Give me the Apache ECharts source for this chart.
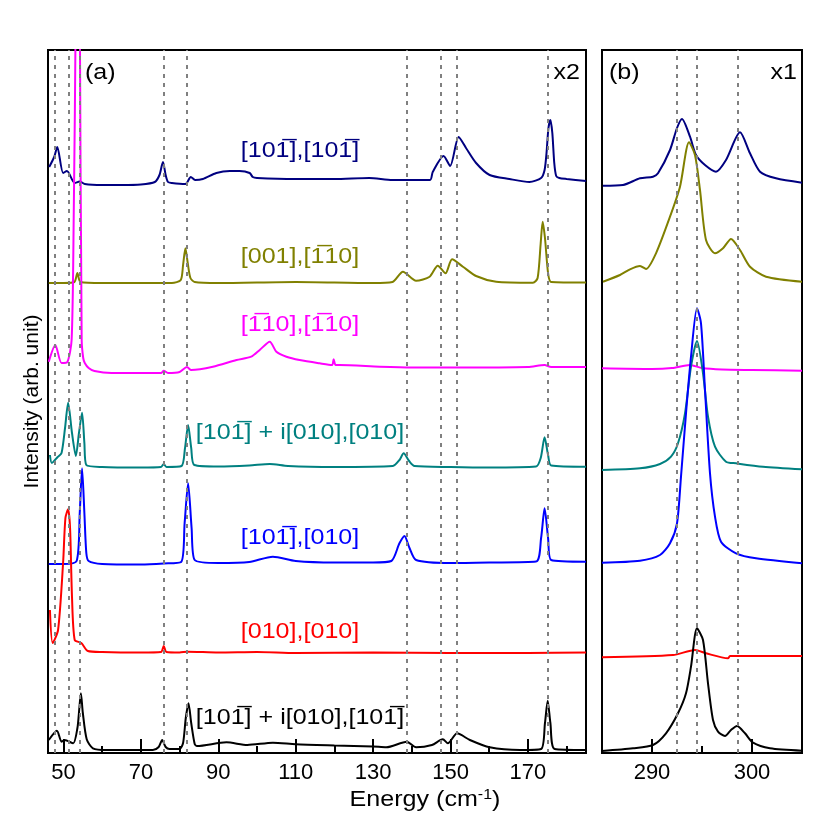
<!DOCTYPE html>
<html>
<head>
<meta charset="utf-8">
<script src="https://cdn.jsdelivr.net/npm/echarts@6/dist/echarts.min.js"></script>
<style>
  html, body { margin: 0; padding: 0; background: #fff; }
  #chart { width: 830px; height: 830px; }
</style>
</head>
<body>
<div id="chart"></div>
<script>
// panel (a): Raman shift (cm-1) vs intensity incl. vertical offset (arb. unit)
const navyA = [[46.3,586],[47.6,596],[48.4,606],[49.9,580],[50.9,582],[52.9,570],[54.2,571.5],[55.5,569],[60,568],[65,568],[70,568.5],[73.6,571],[74.8,578],[75.7,591],[76.4,578],[77,571],[78,570],[81.5,569],[82.9,576],[84,573],[86,574],[89.5,580],[93,582],[95.5,582],[98.1,580],[98.9,576],[100,575],[110,574],[120,574],[129,575],[135,573],[144.7,573],[145.4,581],[148.2,597],[149.9,587],[152.1,616],[154,605],[156.6,590],[160.1,578],[165.2,574],[170.4,571],[173.4,575],[174.3,583],[174.8,600],[175.3,625],[175.8,633],[176.3,620],[176.8,590],[177.3,577],[178.1,575],[180,574],[185,572]];
const oliveA = [[46.2,470],[50,470],[52.8,471],[53.6,480],[54.4,471],[60,470],[70,470],[78,470],[80.3,473],[80.9,488],[81.5,504.7],[82.1,490],[82.8,475],[83.9,471],[90,470],[110,471],[130,470],[135,471],[137.7,481.3],[141.1,472.3],[144.6,476.3],[146.7,487.3],[148.7,479.7],[150.4,493.7],[153.2,486.3],[156.6,477],[161.8,471.3],[171.3,470.3],[172.5,475],[173.3,510],[173.8,531.3],[174.4,515],[175.2,480],[176,471],[185,470.5]];
const magentaA = [[46.2,391.3],[47.9,408],[49.5,390],[51,391],[52.1,413],[52.6,520],[53.2,760],[53.7,1300],[54.2,760],[54.7,413],[55.1,395],[55.5,390],[56.5,385],[58,382],[62.4,380],[70,380],[75.2,380],[75.9,382.3],[77,380],[80,381],[81.9,386],[83,383],[88.6,386.3],[94.7,393],[98.5,396.3],[100.7,403],[103.3,411.3],[105,401.3],[107.6,396.3],[111,393],[116.2,389.7],[119.4,388],[119.8,393.7],[120.3,388],[121.3,388],[131.7,386.3],[140,385.5],[150,385.5],[170,386],[174.3,388],[176,386],[185,386]];
const tealA = [[46.5,298],[47,290],[48.5,296],[49.5,300],[50.4,325],[51.2,350.3],[52.2,320],[53.2,297],[54,320],[54.8,340.3],[55.4,310],[55.9,288],[60,286],[70,285.5],[75.2,286],[75.9,289],[76.6,286],[80.5,287],[81.4,305],[82.2,328],[83,305],[83.8,288],[90,286.5],[98,287.5],[103.3,289],[108,287],[120,286],[135.1,287],[136.8,293],[137.9,299.7],[139.3,292],[140.7,287],[150,286],[160,285.5],[172.1,286.5],[173.3,295],[174.3,315.7],[175.2,298],[176,287.5],[185,286.3]];
const blueA = [[46.2,189],[50,189],[53.4,192],[54.2,240],[54.8,284.7],[55.4,240],[55.9,200],[56.5,192],[60,189],[70,188.5],[75.9,189.5],[80.4,191],[81.3,230],[82.2,269.7],[83.1,225],[83.9,193],[90,190],[98,191],[104.1,196.3],[110,192],[120,190.5],[130,190.5],[134.7,192],[136.8,209.7],[138.1,217],[139.4,205],[141.1,193],[150,190],[160,190.5],[172.1,191.5],[173.4,215],[174.3,244.7],[175.2,215],[176,193],[185,191.3]];
const redA = [[46.5,143],[47.2,110],[48.6,123],[49.9,190],[50.5,235],[51.2,243.7],[51.7,225],[52.2,156],[52.9,113],[54.6,110],[56.3,102],[60,101],[70,100.5],[75.2,101],[75.9,107],[76.6,101],[80,100.5],[82,101.3],[90,100.5],[100,101],[110,100],[130,100.5],[150,100],[170,100],[185,100.5]];
const blackA = [[46.2,13],[48.3,22.3],[49.5,11.3],[50.3,13],[52.5,9.7],[53.6,25],[54.1,45],[54.5,59.7],[55,40],[56,13.7],[57.6,4.7],[61.1,3],[70,3],[73.1,3],[74.6,6],[75.5,13],[76.4,6],[77.4,4],[80,4],[80.9,10],[81.6,35],[82.3,49.7],[83,30],[83.9,9],[84.5,7],[92.1,10.7],[97.5,8],[104.1,10.3],[110,8.7],[120,7.5],[130,6.5],[133.4,5.7],[138.7,11.3],[141.1,5.7],[145.2,8],[148,13.7],[149.3,9.7],[151.7,19.7],[155,13],[160.1,5.7],[168,3],[173.4,4],[174.4,30],[175.1,52.3],[175.8,30],[176.9,4],[185,3]];

// panel (b)
const navyB = [[285.1,567.3],[287.1,568],[288.8,574.7],[290.1,576.3],[290.6,579.7],[291.8,603],[292.5,625],[293,634],[293.8,616.3],[294.4,598],[295.3,588],[296.4,581.3],[297.4,593],[298.8,620.7],[299.8,599.7],[300.8,581.3],[302.4,574.7],[305,570.3]];
const oliveB = [[285.1,471.3],[286.8,478],[287.8,483.7],[288.8,487],[289.4,484],[290.4,499.7],[291.8,536.3],[292.8,566.3],[293.7,610.7],[294.3,598],[294.8,563],[295.4,513],[296.3,499.7],[297.1,504.7],[297.9,514],[298.8,503],[299.8,486.3],[301.4,476.3],[305,471.3]];
const magentaB = [[285,384.7],[290,384],[292,385],[293.8,388],[295,385],[297,383.5],[300,383],[305,382.3]];
const tealB = [[285,283],[288.8,284.7],[290.8,289],[291.9,296.3],[292.6,309.7],[293.3,339.7],[293.9,386.3],[294.5,412],[295.1,379.7],[295.6,336.3],[296.3,306.3],[297.4,291.3],[298.4,289.7],[301.1,286.3],[305,283.7]];
const blueB = [[285,190.3],[288.8,192.3],[290.8,198],[291.8,209.7],[292.5,229.7],[292.9,276.3],[293.4,339.7],[293.9,396.3],[294.5,444.7],[294.9,429.7],[295.3,363],[295.8,279.7],[296.3,236.3],[296.9,211.3],[298.4,199.7],[300.4,194.7],[305,189.7]];
const redB = [[285,95.7],[292.1,98],[294.3,103],[295.4,99.7],[297.6,94.7],[297.8,97],[305,97]];
const blackB = [[285,2],[288.1,4.7],[290.1,8],[291.4,19.7],[292.6,39.7],[293.4,59.7],[293.9,86.3],[294.5,124.7],[295.1,113],[295.6,69.7],[296.1,33],[296.6,21.3],[297.3,17],[297.9,23],[298.5,27],[299.3,19.7],[300.1,10.3],[301.8,4.7],[305,2.3]];

const dashA = [47.8, 51.4, 54.2, 75.9, 81.8, 138.6, 147.4, 151.7, 175.0];
const dashB = [292.5, 294.5, 298.6];

const majorA = [50, 70, 90, 110, 130, 150, 170];
const minorA = [60, 80, 100, 120, 140, 160, 180];
const majorB = [290, 300];
const minorB = [295];

const OV = '\u0305';
const labelsA = [
  { text: '[101' + OV + '],[101' + OV + ']', color: '#000080', y: 151 },
  { text: '[001],[1' + OV + '10]', color: '#808000', y: 257 },
  { text: '[1' + OV + '10],[1' + OV + '10]', color: '#ff00ff', y: 325 },
  { text: '[101' + OV + '] + i[010],[010]', color: '#008080', y: 433 },
  { text: '[101' + OV + '],[010]', color: '#0000ff', y: 538 },
  { text: '[010],[010]', color: '#ff0000', y: 632 },
  { text: '[101' + OV + '] + i[010],[101' + OV + ']', color: '#000000', y: 718 }
];

const spectra = [
  { a: navyA, b: navyB, color: '#000080' },
  { a: oliveA, b: oliveB, color: '#808000' },
  { a: magentaA, b: magentaB, color: '#ff00ff' },
  { a: tealA, b: tealB, color: '#008080' },
  { a: blueA, b: blueB, color: '#0000ff' },
  { a: redA, b: redB, color: '#ff0000' },
  { a: blackA, b: blackB, color: '#000000' }
];

const FONT = '"Liberation Sans", Arial, Helvetica, sans-serif';
const TXT = '22px ' + FONT;
const STRETCH = 1.14; // the original lettering is a little wide

function xAxisPair(grid, min, max, major, minor) {
  return [
    {
      gridIndex: grid, type: 'value', min: min, max: max,
      axisLine: { show: true, lineStyle: { color: '#000', width: 2 } },
      axisTick: { show: true, inside: true, length: 7, customValues: minor, lineStyle: { color: '#000', width: 2 } },
      axisLabel: { show: true, customValues: major, color: '#000', fontSize: 22, margin: 9, fontFamily: FONT },
      splitLine: { show: false }
    },
    {
      gridIndex: grid, type: 'value', min: min, max: max, position: 'bottom',
      axisLine: { show: false },
      axisTick: { show: true, inside: true, length: 14, customValues: major, lineStyle: { color: '#000', width: 2 } },
      axisLabel: { show: false },
      splitLine: { show: false }
    }
  ];
}

function dashSeries(xIdx, yIdx, values) {
  return {
    type: 'line', xAxisIndex: xIdx, yAxisIndex: yIdx, data: [], z: 1,
    markLine: {
      silent: true, symbol: 'none', animation: false,
      label: { show: false },
      lineStyle: { color: '#808080', width: 2, type: [4, 5] },
      data: values.map(v => ({ xAxis: v }))
    }
  };
}

const series = [dashSeries(0, 0, dashA), dashSeries(2, 1, dashB)];
spectra.forEach(s => {
  series.push({
    type: 'line', xAxisIndex: 0, yAxisIndex: 0, data: s.a, showSymbol: false,
    smooth: 0.25, z: 2, lineStyle: { color: s.color, width: 2 }, clip: true
  });
  series.push({
    type: 'line', xAxisIndex: 2, yAxisIndex: 1, data: s.b, showSymbol: false,
    smooth: 0.25, z: 2, lineStyle: { color: s.color, width: 2 }, clip: true
  });
});

function txt(x, y, text, color, align, extra) {
  return Object.assign({
    type: 'text', x: x, y: y, scaleX: STRETCH,
    style: { text: text, fill: color, font: TXT, textAlign: align, textVerticalAlign: 'middle' }
  }, extra || {});
}

const graphics = labelsA.map(l => txt(300, l.y, l.text, l.color, 'center'));
graphics.push(
  txt(85, 73, '(a)', '#000', 'left'),
  txt(580, 73, 'x2', '#000', 'right'),
  txt(609, 73, '(b)', '#000', 'left'),
  txt(797, 73, 'x1', '#000', 'right'),
  {
    type: 'text', x: 425, y: 800, scaleX: STRETCH,
    style: {
      text: 'Energy (cm{sup|-1})', fill: '#000', font: TXT,
      textAlign: 'center', textVerticalAlign: 'middle',
      rich: { sup: { fontSize: 14, verticalAlign: 'top', padding: [0, 0, 9, 0], fontFamily: FONT } }
    }
  }
);

const chart = echarts.init(document.getElementById('chart'));
chart.setOption({
  animation: false,
  backgroundColor: '#fff',
  textStyle: { fontFamily: FONT },
  grid: [
    { left: 48, top: 50, width: 538, height: 703, show: true, borderColor: '#000', borderWidth: 2, backgroundColor: 'transparent' },
    { left: 602, top: 50, width: 200, height: 703, show: true, borderColor: '#000', borderWidth: 2, backgroundColor: 'transparent' }
  ],
  xAxis: [].concat(
    xAxisPair(0, 46, 185, majorA, minorA),
    xAxisPair(1, 285, 305, majorB, minorB)
  ),
  yAxis: [
    {
      gridIndex: 0, type: 'value', min: 0, max: 703,
      axisLine: { show: false }, axisTick: { show: false }, axisLabel: { show: false }, splitLine: { show: false },
      name: 'Intensity (arb. unit)', nameLocation: 'middle', nameGap: 5, nameRotate: 90,
      nameTextStyle: { fontSize: 21, color: '#000', fontFamily: FONT }
    },
    {
      gridIndex: 1, type: 'value', min: 0, max: 703,
      axisLine: { show: false }, axisTick: { show: false }, axisLabel: { show: false }, splitLine: { show: false }
    }
  ],
  graphic: graphics,
  series: series
});
</script>
</body>
</html>
